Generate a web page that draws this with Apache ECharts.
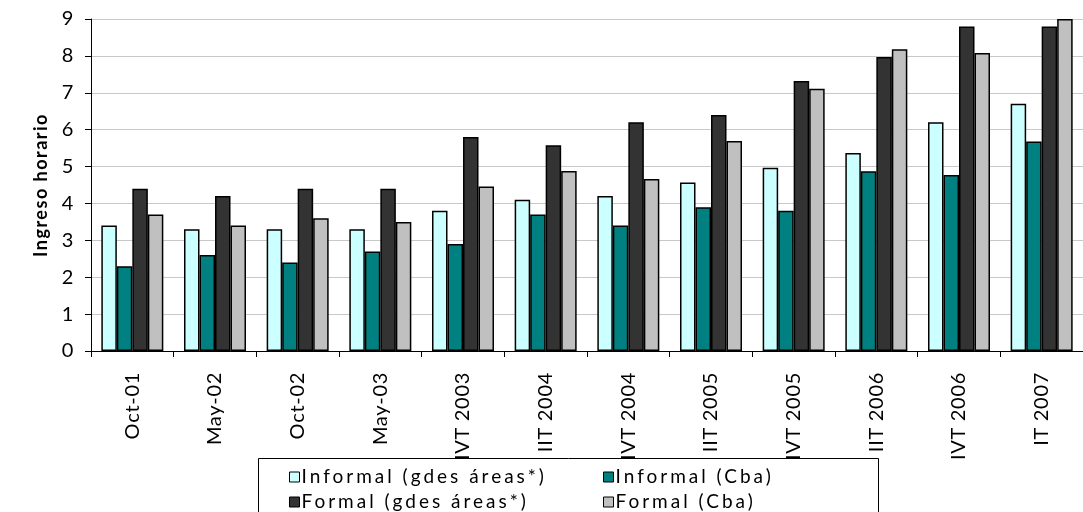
<!DOCTYPE html>
<html>
<head>
<meta charset="utf-8">
<script src="https://cdn.jsdelivr.net/npm/echarts@6/dist/echarts.min.js"></script>
<style>
  html, body { margin: 0; padding: 0; background: #fff; }
  #chart { width: 1083px; height: 512px; }
</style>
</head>
<body>
<div id="chart"></div>
<script>
// Hourly income by period: informal / formal workers, large urban areas vs Córdoba
const categories = ['Oct-01', 'May-02', 'Oct-02', 'May-03', 'IVT 2003', 'IIT 2004',
  'IVT 2004', 'IIT 2005', 'IVT 2005', 'IIT 2006', 'IVT 2006', 'IT 2007'];

const informalGdes = [3.4, 3.3, 3.3, 3.3, 3.8, 4.1, 4.2, 4.57, 4.97, 5.37, 6.2, 6.7];
const informalCba  = [2.3, 2.6, 2.4, 2.7, 2.9, 3.7, 3.4, 3.9, 3.8, 4.87, 4.77, 5.68];
const formalGdes   = [4.4, 4.2, 4.4, 4.4, 5.8, 5.58, 6.2, 6.4, 7.32, 7.97, 8.8, 8.8];
const formalCba    = [3.7, 3.4, 3.6, 3.5, 4.46, 4.88, 4.66, 5.69, 7.11, 8.18, 8.08, 9.0];

const yTicks = { min: 0, max: 9, interval: 1 };

const seriesNames = ['Informal (gdes áreas*)', 'Informal (Cba)', 'Formal (gdes áreas*)', 'Formal (Cba)'];
const seriesColors = ['#ccffff', '#008080', '#333333', '#c0c0c0'];
const seriesData = [informalGdes, informalCba, formalGdes, formalCba];

const FONT = 'Lato';

// Wider tracking for the text, keyed by font size (legend text is spaced the most).
(function () {
  const proto = CanvasRenderingContext2D.prototype;
  if (!('letterSpacing' in proto)) return;
  const spacingFor = (font) => {
    if (/bold/.test(font)) return '1.5px';
    if (/\b19px/.test(font)) return '3px';
    return '0.7px';
  };
  ['fillText', 'strokeText', 'measureText'].forEach((fn) => {
    const orig = proto[fn];
    proto[fn] = function () {
      this.letterSpacing = spacingFor(this.font || '');
      return orig.apply(this, arguments);
    };
  });
})();

const chart = echarts.init(document.getElementById('chart'), null, { renderer: 'canvas' });

const legendCommon = {
  orient: 'vertical',
  top: 466,
  height: 120,
  itemWidth: 10,
  itemHeight: 10,
  itemGap: 3,
  icon: 'rect',
  selectedMode: false,
  z: 6,
  itemStyle: { borderColor: '#000', borderWidth: 1 },
  textStyle: { fontFamily: FONT, fontSize: 19, lineHeight: 20, color: '#000', padding: [0, 0, 0, -3] },
  padding: 0
};

chart.setOption({
  animation: false,
  backgroundColor: '#fff',
  grid: { left: 91, top: 19, width: 1006, bottom: 161, containLabel: false },
  legend: [
    Object.assign({}, legendCommon, { left: 289, data: [seriesNames[0], seriesNames[2]] }),
    Object.assign({}, legendCommon, { left: 603, data: [seriesNames[1], seriesNames[3]] })
  ],
  graphic: [{
    type: 'rect',
    shape: { x: 258.5, y: 458.5, width: 620, height: 70 },
    style: { fill: '#fff', stroke: '#000', lineWidth: 1 },
    z: 5
  }],
  xAxis: {
    type: 'category',
    data: categories,
    boundaryGap: true,
    axisLine: { lineStyle: { color: '#000', width: 1 } },
    axisTick: { show: true, length: 6, lineStyle: { color: '#000' } },
    axisLabel: {
      rotate: 90,
      interval: 0,
      margin: 21,
      fontFamily: FONT,
      fontSize: 20,
      color: '#000'
    }
  },
  yAxis: {
    type: 'value',
    min: yTicks.min,
    max: yTicks.max,
    interval: yTicks.interval,
    name: 'Ingreso horario',
    nameLocation: 'middle',
    nameRotate: 90,
    nameGap: 35,
    nameTextStyle: { fontFamily: FONT, fontSize: 18, fontWeight: 'bold', color: '#000' },
    axisLine: { show: true, lineStyle: { color: '#000', width: 1 } },
    axisTick: { show: true, length: 6, lineStyle: { color: '#000' } },
    axisLabel: { fontFamily: FONT, fontSize: 20, color: '#000', margin: 17 },
    splitLine: { show: true, lineStyle: { color: '#c8c8c8', width: 1 } }
  },
  series: seriesData.map((d, i) => ({
    name: seriesNames[i],
    type: 'bar',
    data: d,
    barGap: '0%',
    barCategoryGap: '25%',
    itemStyle: { color: seriesColors[i], borderColor: '#000', borderWidth: 1.5 }
  }))
});
</script>
</body>
</html>
